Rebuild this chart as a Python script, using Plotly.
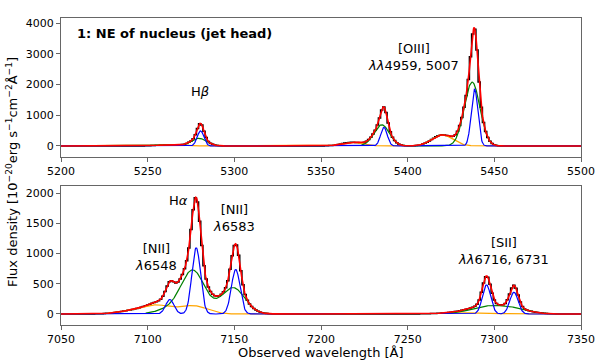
import numpy as np
import plotly.graph_objects as go

# ---- line fit components (centre [A], peak, sigma [A]) ----
# top panel: Hbeta, [OIII]4959, [OIII]5007
top_narrow_center = [5280.5, 5386.3, 5438.6]
top_narrow_amp = [490, 605, 1850]
top_narrow_sigma = [1.9, 1.9, 1.9]

top_broad_center = [5279.5, 5385.0, 5437.2]
top_broad_amp = [250, 690, 2080]
top_broad_sigma = [4.5, 4.5, 4.5]

top_blue_center = [5262.0, 5368.0, 5420.0]
top_blue_amp = [40, 120, 360]
top_blue_sigma = [6.0, 6.0, 6.0]

# bottom panel: [NII]6548, Halpha, [NII]6583, [SII]6716, [SII]6731
bot_narrow_center = [7112.8, 7128.0, 7150.8, 7295.5, 7311.3]
bot_narrow_amp = [240, 1095, 735, 480, 360]
bot_narrow_sigma = [2.4, 2.5, 2.5, 2.4, 2.4]

bot_broad_center = [7111.5, 7126.0, 7149.2, 7294.0, 7310.0]
bot_broad_amp = [70, 720, 435, 110, 95]
bot_broad_sigma = [6.8, 6.8, 6.8, 9.0, 9.0]

bot_blue_center = [7090.0, 7105.5, 7126.5, 7277.0, 7293.0]
bot_blue_amp = [45, 140, 135, 15, 12]
bot_blue_sigma = [8.0, 8.0, 8.0, 10.0, 10.0]

top_range = [5200, 5500]
bot_range = [7050, 7350]
pix = 1.25  # spectral sampling of the data


def profile(wave, centers, amps, sigmas):
    out = np.zeros_like(wave)
    for c, a, s in zip(centers, amps, sigmas):
        out += a * np.exp(-0.5 * ((wave - c) / s) ** 2)
    return out


fig = go.Figure()


def add_panel(xr, narrow, broad, blue, xa, ya):
    w = np.arange(xr[0], xr[1] + 0.01, 0.25)
    wd = np.arange(xr[0], xr[1] + 0.01, pix)
    n = profile(w, *narrow)
    b = profile(w, *broad)
    o = profile(w, *blue)
    data = profile(wd, *narrow) + profile(wd, *broad) + profile(wd, *blue)
    common = dict(xaxis=xa, yaxis=ya, mode="lines", hoverinfo="skip", showlegend=False)
    fig.add_trace(go.Scatter(x=wd, y=data, line=dict(color="black", width=1.5, shape="hvh"), **common))
    fig.add_trace(go.Scatter(x=w, y=o, line=dict(color="orange", width=1.2), **common))
    fig.add_trace(go.Scatter(x=w, y=b, line=dict(color="green", width=1.2), **common))
    fig.add_trace(go.Scatter(x=w, y=n, line=dict(color="blue", width=1.2), **common))
    fig.add_trace(go.Scatter(x=w, y=n + b + o, line=dict(color="red", width=1.6), **common))


add_panel(top_range,
          (top_narrow_center, top_narrow_amp, top_narrow_sigma),
          (top_broad_center, top_broad_amp, top_broad_sigma),
          (top_blue_center, top_blue_amp, top_blue_sigma), "x", "y")
add_panel(bot_range,
          (bot_narrow_center, bot_narrow_amp, bot_narrow_sigma),
          (bot_broad_center, bot_broad_amp, bot_broad_sigma),
          (bot_blue_center, bot_blue_amp, bot_blue_sigma), "x2", "y2")

W, H = 598, 362
L, R, T, B = 61, 581, 18, 325  # plot area in pixels


def px(x):
    return (x - L) / (R - L)


def py(y):
    return (B - y) / (B - T)


axis_style = dict(showline=True, linecolor="#666", linewidth=1, mirror=True,
                  ticks="outside", ticklen=4, tickcolor="#666", showgrid=False,
                  zeroline=False, automargin=False, tickfont=dict(size=11, color="black"))

txt = dict(family="DejaVu Sans", size=13, color="black")
c = dict(showarrow=False, font=txt, xanchor="center", yanchor="middle")
ann = [
    dict(text="<b>1: NE of nucleus (jet head)</b>", xref="paper", yref="paper",
         x=px(75), y=py(33), xanchor="left", yanchor="middle", showarrow=False, font=txt),
    dict(text="H<i>β</i>", xref="x", yref="y", x=5280, y=1760, **c),
    dict(text="[OIII]<br><i>λλ</i>4959, 5007", xref="x", yref="y", x=5403.5, y=2900, **c),
    dict(text="H<i>α</i>", xref="x2", yref="y2", x=7117.5, y=1880, **c),
    dict(text="[NII]<br><i>λ</i>6548", xref="x2", yref="y2", x=7105, y=940, **c),
    dict(text="[NII]<br><i>λ</i>6583", xref="x2", yref="y2", x=7150, y=1580, **c),
    dict(text="[SII]<br><i>λλ</i>6716, 6731", xref="x2", yref="y2", x=7305, y=1040, **c),
    dict(text="Observed wavelength [Å]", xref="paper", yref="paper", x=px(321), y=py(352), **c),
    dict(text="Flux density [10<sup>−20</sup>erg s<sup>−1</sup>cm<sup>−2</sup>Å<sup>−1</sup>]",
         xref="paper", yref="paper", x=px(12), y=py(172), textangle=-90, **c),
]

fig.update_layout(
    width=W, height=H, margin=dict(l=L, r=W - R, t=T, b=H - B, autoexpand=False),
    paper_bgcolor="white", plot_bgcolor="white",
    font=dict(family="DejaVu Sans", color="black"),
    xaxis=dict(domain=[0, 1], range=top_range, anchor="y", tickvals=list(range(5200, 5501, 50)), **axis_style),
    yaxis=dict(domain=[py(157), 1], range=[-360, 4170], anchor="x",
               tickvals=[0, 1000, 2000, 3000, 4000], **axis_style),
    xaxis2=dict(domain=[0, 1], range=bot_range, anchor="y2", tickvals=list(range(7050, 7351, 50)), **axis_style),
    yaxis2=dict(domain=[0, py(186)], range=[-182, 2116], anchor="x2",
                tickvals=[0, 500, 1000, 1500, 2000], **axis_style),
    annotations=ann,
)

fig.write_html("out.html", config={"displayModeBar": False},
               post_script="document.body.style.margin='0';")
